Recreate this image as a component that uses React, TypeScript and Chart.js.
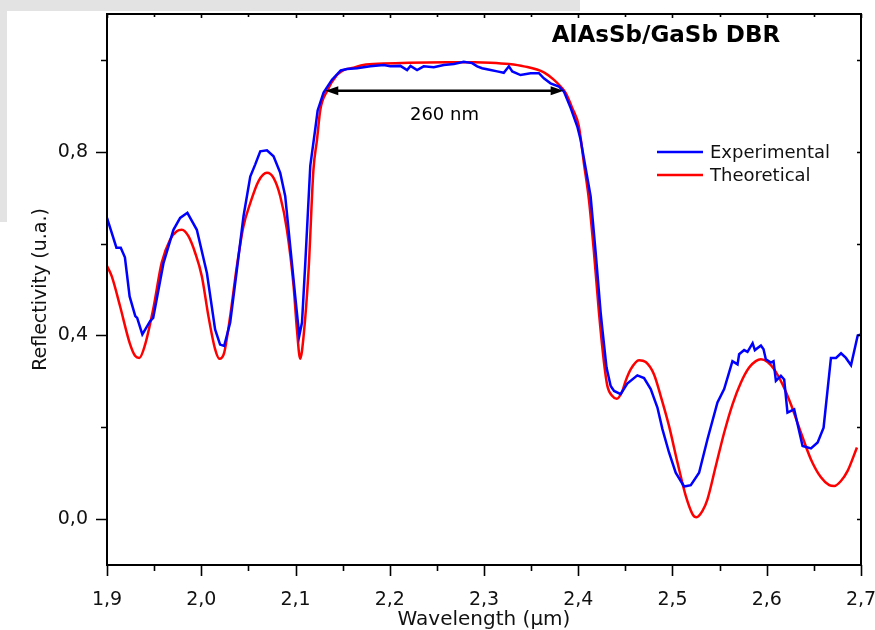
import React, { useEffect, useRef } from "react";
import { Chart, registerables } from "chart.js";

Chart.register(...registerables);

// ---------- data ----------
const expX = [
  1.9, 1.91, 1.9146, 1.919, 1.924, 1.93, 1.932, 1.9375, 1.9457, 1.949, 1.96, 1.9705, 1.9776, 1.9853, 1.9953,
  2.006, 2.0147, 2.02, 2.0243, 2.0307, 2.0378, 2.0448, 2.052, 2.0572, 2.0626, 2.0697, 2.0767, 2.0838, 2.0891,
  2.0944, 2.0997, 2.104, 2.1069, 2.1104, 2.1157, 2.121, 2.1235, 2.1298, 2.1387, 2.148, 2.1547, 2.1653, 2.1794,
  2.1936, 2.2007, 2.2113, 2.2184, 2.222, 2.229, 2.236, 2.2467, 2.2573, 2.268, 2.2785, 2.2874, 2.2928, 2.298,
  2.307, 2.314, 2.321, 2.3264, 2.33, 2.3388, 2.3494, 2.3583, 2.3635, 2.3706, 2.3795, 2.3848, 2.392, 2.399,
  2.4025, 2.4131, 2.4185, 2.4238, 2.4256, 2.43, 2.4344, 2.438, 2.445, 2.452, 2.4627, 2.4698, 2.4769, 2.484,
  2.4893, 2.4963, 2.5034, 2.5123, 2.5194, 2.5282, 2.5371, 2.5477, 2.5548, 2.56, 2.5636, 2.569, 2.5707, 2.576,
  2.5796, 2.585, 2.5874, 2.5938, 2.5966, 2.599, 2.6044, 2.6072, 2.6097, 2.615, 2.6185, 2.622, 2.6291, 2.638,
  2.6469, 2.654, 2.6603, 2.6681, 2.6735, 2.6788, 2.684, 2.6894, 2.6965, 2.7,
];
const expY = [
  0.656, 0.591, 0.591, 0.57, 0.485, 0.442, 0.438, 0.402, 0.431, 0.438, 0.558, 0.63, 0.656, 0.667, 0.63,
  0.536, 0.413, 0.38, 0.377, 0.428, 0.543, 0.659, 0.746, 0.772, 0.801, 0.803, 0.79, 0.754, 0.703,
  0.594, 0.485, 0.399, 0.428, 0.558, 0.77, 0.85, 0.89, 0.929, 0.957, 0.977, 0.98, 0.982, 0.986,
  0.989, 0.986, 0.987, 0.978, 0.987, 0.978, 0.986, 0.984, 0.989, 0.991, 0.996, 0.993, 0.986, 0.982,
  0.978, 0.975, 0.972, 0.986, 0.975, 0.967, 0.971, 0.971, 0.96, 0.949, 0.942, 0.931, 0.895, 0.855,
  0.826, 0.703, 0.58, 0.449, 0.413, 0.33, 0.29, 0.279, 0.272, 0.295, 0.313, 0.307, 0.283, 0.243,
  0.196, 0.145, 0.101, 0.071, 0.074, 0.101, 0.174, 0.254, 0.283, 0.319, 0.344, 0.337, 0.359, 0.368,
  0.364, 0.383, 0.368, 0.378, 0.37, 0.348, 0.341, 0.344, 0.301, 0.312, 0.304, 0.232, 0.239, 0.159,
  0.154, 0.167, 0.199, 0.351, 0.351, 0.361, 0.351, 0.335, 0.4, 0.402,
];

const theoX = [
  1.9, 1.905, 1.9138, 1.924, 1.93, 1.9343, 1.94, 1.949, 1.958, 1.967, 1.974, 1.9794, 1.9864, 1.9935, 2.0006,
  2.0076, 2.0147, 2.0193, 2.0243, 2.0307, 2.0378, 2.0448, 2.052, 2.0608, 2.0697, 2.0767, 2.0838, 2.0909, 2.098,
  2.1015, 2.105, 2.1086, 2.1139, 2.119, 2.1228, 2.1263, 2.1334, 2.144, 2.151, 2.1617, 2.172, 2.1935, 2.22,
  2.26, 2.29, 2.307, 2.3265, 2.3423, 2.3635, 2.374, 2.3813, 2.3866, 2.3937, 2.4007, 2.406, 2.4113, 2.4167,
  2.422, 2.4273, 2.4309, 2.4362, 2.4408, 2.4468, 2.4503, 2.4556, 2.4645, 2.4716, 2.4804, 2.4875, 2.4963,
  2.5053, 2.514, 2.5212, 2.5254, 2.5318, 2.5371, 2.546, 2.5548, 2.5637, 2.5725, 2.5813, 2.5884, 2.5938,
  2.6009, 2.6079, 2.6168, 2.6256, 2.6363, 2.6469, 2.6575, 2.6663, 2.6716, 2.6787, 2.6858, 2.6957,
];
const theoY = [
  0.551, 0.529, 0.464, 0.384, 0.355, 0.351, 0.377, 0.457, 0.558, 0.609, 0.627, 0.63, 0.616, 0.58, 0.529,
  0.442, 0.37, 0.349, 0.362, 0.442, 0.551, 0.638, 0.688, 0.736, 0.754, 0.743, 0.703, 0.63, 0.507,
  0.413, 0.349, 0.399, 0.543, 0.76, 0.826, 0.891, 0.932, 0.967, 0.978, 0.983, 0.989, 0.992, 0.994,
  0.995, 0.995, 0.994, 0.991, 0.986, 0.973, 0.957, 0.942, 0.928, 0.895, 0.855, 0.775, 0.696, 0.58,
  0.449, 0.341, 0.29, 0.268, 0.262, 0.279, 0.301, 0.326, 0.346, 0.342, 0.315, 0.268, 0.203,
  0.123, 0.051, 0.011, 0.004, 0.018, 0.043, 0.116, 0.188, 0.25, 0.297, 0.33, 0.344, 0.348,
  0.342, 0.326, 0.293, 0.25, 0.188, 0.13, 0.091, 0.074, 0.072, 0.083, 0.105, 0.156,
];

const seriesNames = ["Experimental", "Theoretical"];
const chartTitle = "AlAsSb/GaSb DBR";
const xTitle = "Wavelength (µm)";
const yTitle = "Reflectivity (u.a.)";

const xMin = 1.9, xMax = 2.7;
const yMin = -0.1, yMax = 1.1;
const xMajorTicks = [1.9, 2.0, 2.1, 2.2, 2.3, 2.4, 2.5, 2.6, 2.7];
const xMinorTicks = [1.95, 2.05, 2.15, 2.25, 2.35, 2.45, 2.55, 2.65];
const yMajorTicks = [0.0, 0.4, 0.8];
const yMinorTicks = [0.2, 0.6, 1.0];

const arrowFrom = 2.1316, arrowTo = 2.3845, arrowLevel = 0.933;
const arrowLabel = "260 nm";

const FONT = "'DejaVu Sans', Verdana, sans-serif";

const fmt = (v: number) => v.toFixed(1).replace(".", ",");

const zeroPad = (s: any) => {
  s.paddingTop = 0;
  s.paddingBottom = 0;
  s.paddingLeft = 0;
  s.paddingRight = 0;
};

const decorPlugin = {
  id: "decor",
  afterDraw(chart: any) {
    const { ctx, chartArea: a, scales } = chart;
    const xs = scales.x, ys = scales.y;
    ctx.save();
    // frame
    ctx.strokeStyle = "#000";
    ctx.lineWidth = 2;
    ctx.strokeRect(a.left, a.top, a.right - a.left, a.bottom - a.top);
    ctx.lineWidth = 1.6;
    ctx.beginPath();
    for (const v of xMajorTicks) {
      const p = Math.round(xs.getPixelForValue(v)) + 0.5;
      ctx.moveTo(p, a.bottom); ctx.lineTo(p, a.bottom + 11);
      ctx.moveTo(p, a.top); ctx.lineTo(p, a.top + 4);
    }
    for (const v of xMinorTicks) {
      const p = Math.round(xs.getPixelForValue(v)) + 0.5;
      ctx.moveTo(p, a.bottom); ctx.lineTo(p, a.bottom + 6);
      ctx.moveTo(p, a.top); ctx.lineTo(p, a.top + 3);
    }
    for (const v of yMajorTicks) {
      const p = Math.round(ys.getPixelForValue(v)) + 0.5;
      ctx.moveTo(a.left, p); ctx.lineTo(a.left - 11, p);
      ctx.moveTo(a.right, p); ctx.lineTo(a.right - 4, p);
    }
    for (const v of yMinorTicks) {
      const p = Math.round(ys.getPixelForValue(v)) + 0.5;
      ctx.moveTo(a.left, p); ctx.lineTo(a.left - 6, p);
      ctx.moveTo(a.right, p); ctx.lineTo(a.right - 4, p);
    }
    ctx.stroke();

    // arrow annotation
    const x1 = xs.getPixelForValue(arrowFrom);
    const x2 = xs.getPixelForValue(arrowTo);
    const ay = ys.getPixelForValue(arrowLevel);
    ctx.strokeStyle = "#000";
    ctx.fillStyle = "#000";
    ctx.lineWidth = 2.5;
    ctx.beginPath();
    ctx.moveTo(x1 + 8, ay); ctx.lineTo(x2 - 8, ay);
    ctx.stroke();
    ctx.beginPath();
    ctx.moveTo(x1, ay); ctx.lineTo(x1 + 13, ay - 4.5); ctx.lineTo(x1 + 13, ay + 4.5); ctx.closePath();
    ctx.moveTo(x2, ay); ctx.lineTo(x2 - 13, ay - 4.5); ctx.lineTo(x2 - 13, ay + 4.5); ctx.closePath();
    ctx.fill();
    ctx.font = `18px ${FONT}`;
    ctx.textAlign = "center";
    ctx.textBaseline = "middle";
    ctx.fillText(arrowLabel, (x1 + x2) / 2, ay + 25);

    // title
    ctx.font = `bold 23px ${FONT}`;
    ctx.fillText(chartTitle, a.right - 195, a.top + 22);

    // legend
    const ds = chart.data.datasets;
    ctx.font = `18px ${FONT}`;
    ctx.textAlign = "left";
    ds.forEach((d: any, i: number) => {
      const ly = a.top + 138 + i * 23;
      ctx.strokeStyle = d.borderColor;
      ctx.lineWidth = 2.5;
      ctx.beginPath();
      ctx.moveTo(a.right - 204, ly); ctx.lineTo(a.right - 158, ly);
      ctx.stroke();
      ctx.fillStyle = "#111";
      ctx.fillText(d.label, a.right - 151, ly + 1);
    });
    ctx.restore();
  },
};

export default function App() {
  const ref = useRef<HTMLCanvasElement | null>(null);
  useEffect(() => {
    if (!ref.current) return;
    const chart = new Chart(ref.current, {
      type: "scatter",
      data: {
        datasets: [
          {
            label: seriesNames[0],
            data: expX.map((x, i) => ({ x, y: expY[i] })),
            showLine: true,
            borderColor: "#0000ff",
            backgroundColor: "#0000ff",
            borderWidth: 2.5,
            pointRadius: 0,
            tension: 0,
          },
          {
            label: seriesNames[1],
            data: theoX.map((x, i) => ({ x, y: theoY[i] })),
            showLine: true,
            borderColor: "#ff0000",
            backgroundColor: "#ff0000",
            borderWidth: 2.5,
            pointRadius: 0,
            cubicInterpolationMode: "monotone",
          },
        ],
      },
      options: {
        responsive: false,
        animation: false,
        layout: { padding: { top: 14, right: 14, left: 0, bottom: 0 } },
        plugins: { legend: { display: false }, tooltip: { enabled: false } },
        scales: {
          x: {
            type: "linear",
            min: xMin,
            max: xMax,
            grid: { display: false, drawTicks: false },
            border: { display: false },
            afterFit: (s: any) => { s.height = 65; zeroPad(s); },
            afterBuildTicks: (s: any) => { s.ticks = xMajorTicks.map((v) => ({ value: v })); },
            ticks: {
              autoSkip: false,
              maxRotation: 0,
              padding: 24,
              color: "#111",
              font: { family: FONT, size: 19 },
              callback: (v: any) => fmt(Number(v)),
            },
            title: {
              display: true,
              text: xTitle,
              color: "#111",
              font: { family: FONT, size: 20 },
              padding: { top: 0, bottom: -2 },
            },
          },
          y: {
            type: "linear",
            min: yMin,
            max: yMax,
            grid: { display: false, drawTicks: false },
            border: { display: false },
            afterFit: (s: any) => { s.width = 107; zeroPad(s); },
            afterBuildTicks: (s: any) => { s.ticks = yMajorTicks.map((v) => ({ value: v })); },
            ticks: {
              autoSkip: false,
              padding: 19,
              color: "#111",
              font: { family: FONT, size: 19 },
              callback: (v: any) => fmt(Number(v)),
            },
            title: {
              display: true,
              text: yTitle,
              color: "#111",
              font: { family: FONT, size: 19 },
              padding: { top: 30, bottom: 0 },
            },
          },
        },
      },
      plugins: [decorPlugin],
    } as any);
    return () => chart.destroy();
  }, []);

  return (
    <div style={{ position: "fixed", left: 0, top: 0, width: 875, height: 630, background: "#fff", overflow: "hidden" }}>
      <div style={{ position: "absolute", left: 0, top: 0, width: 580, height: 11, background: "#e3e3e3" }} />
      <div style={{ position: "absolute", left: 0, top: 0, width: 7, height: 222, background: "#e3e3e3" }} />
      <canvas ref={ref} width={875} height={630} style={{ position: "absolute", left: 0, top: 0 }} />
    </div>
  );
}
